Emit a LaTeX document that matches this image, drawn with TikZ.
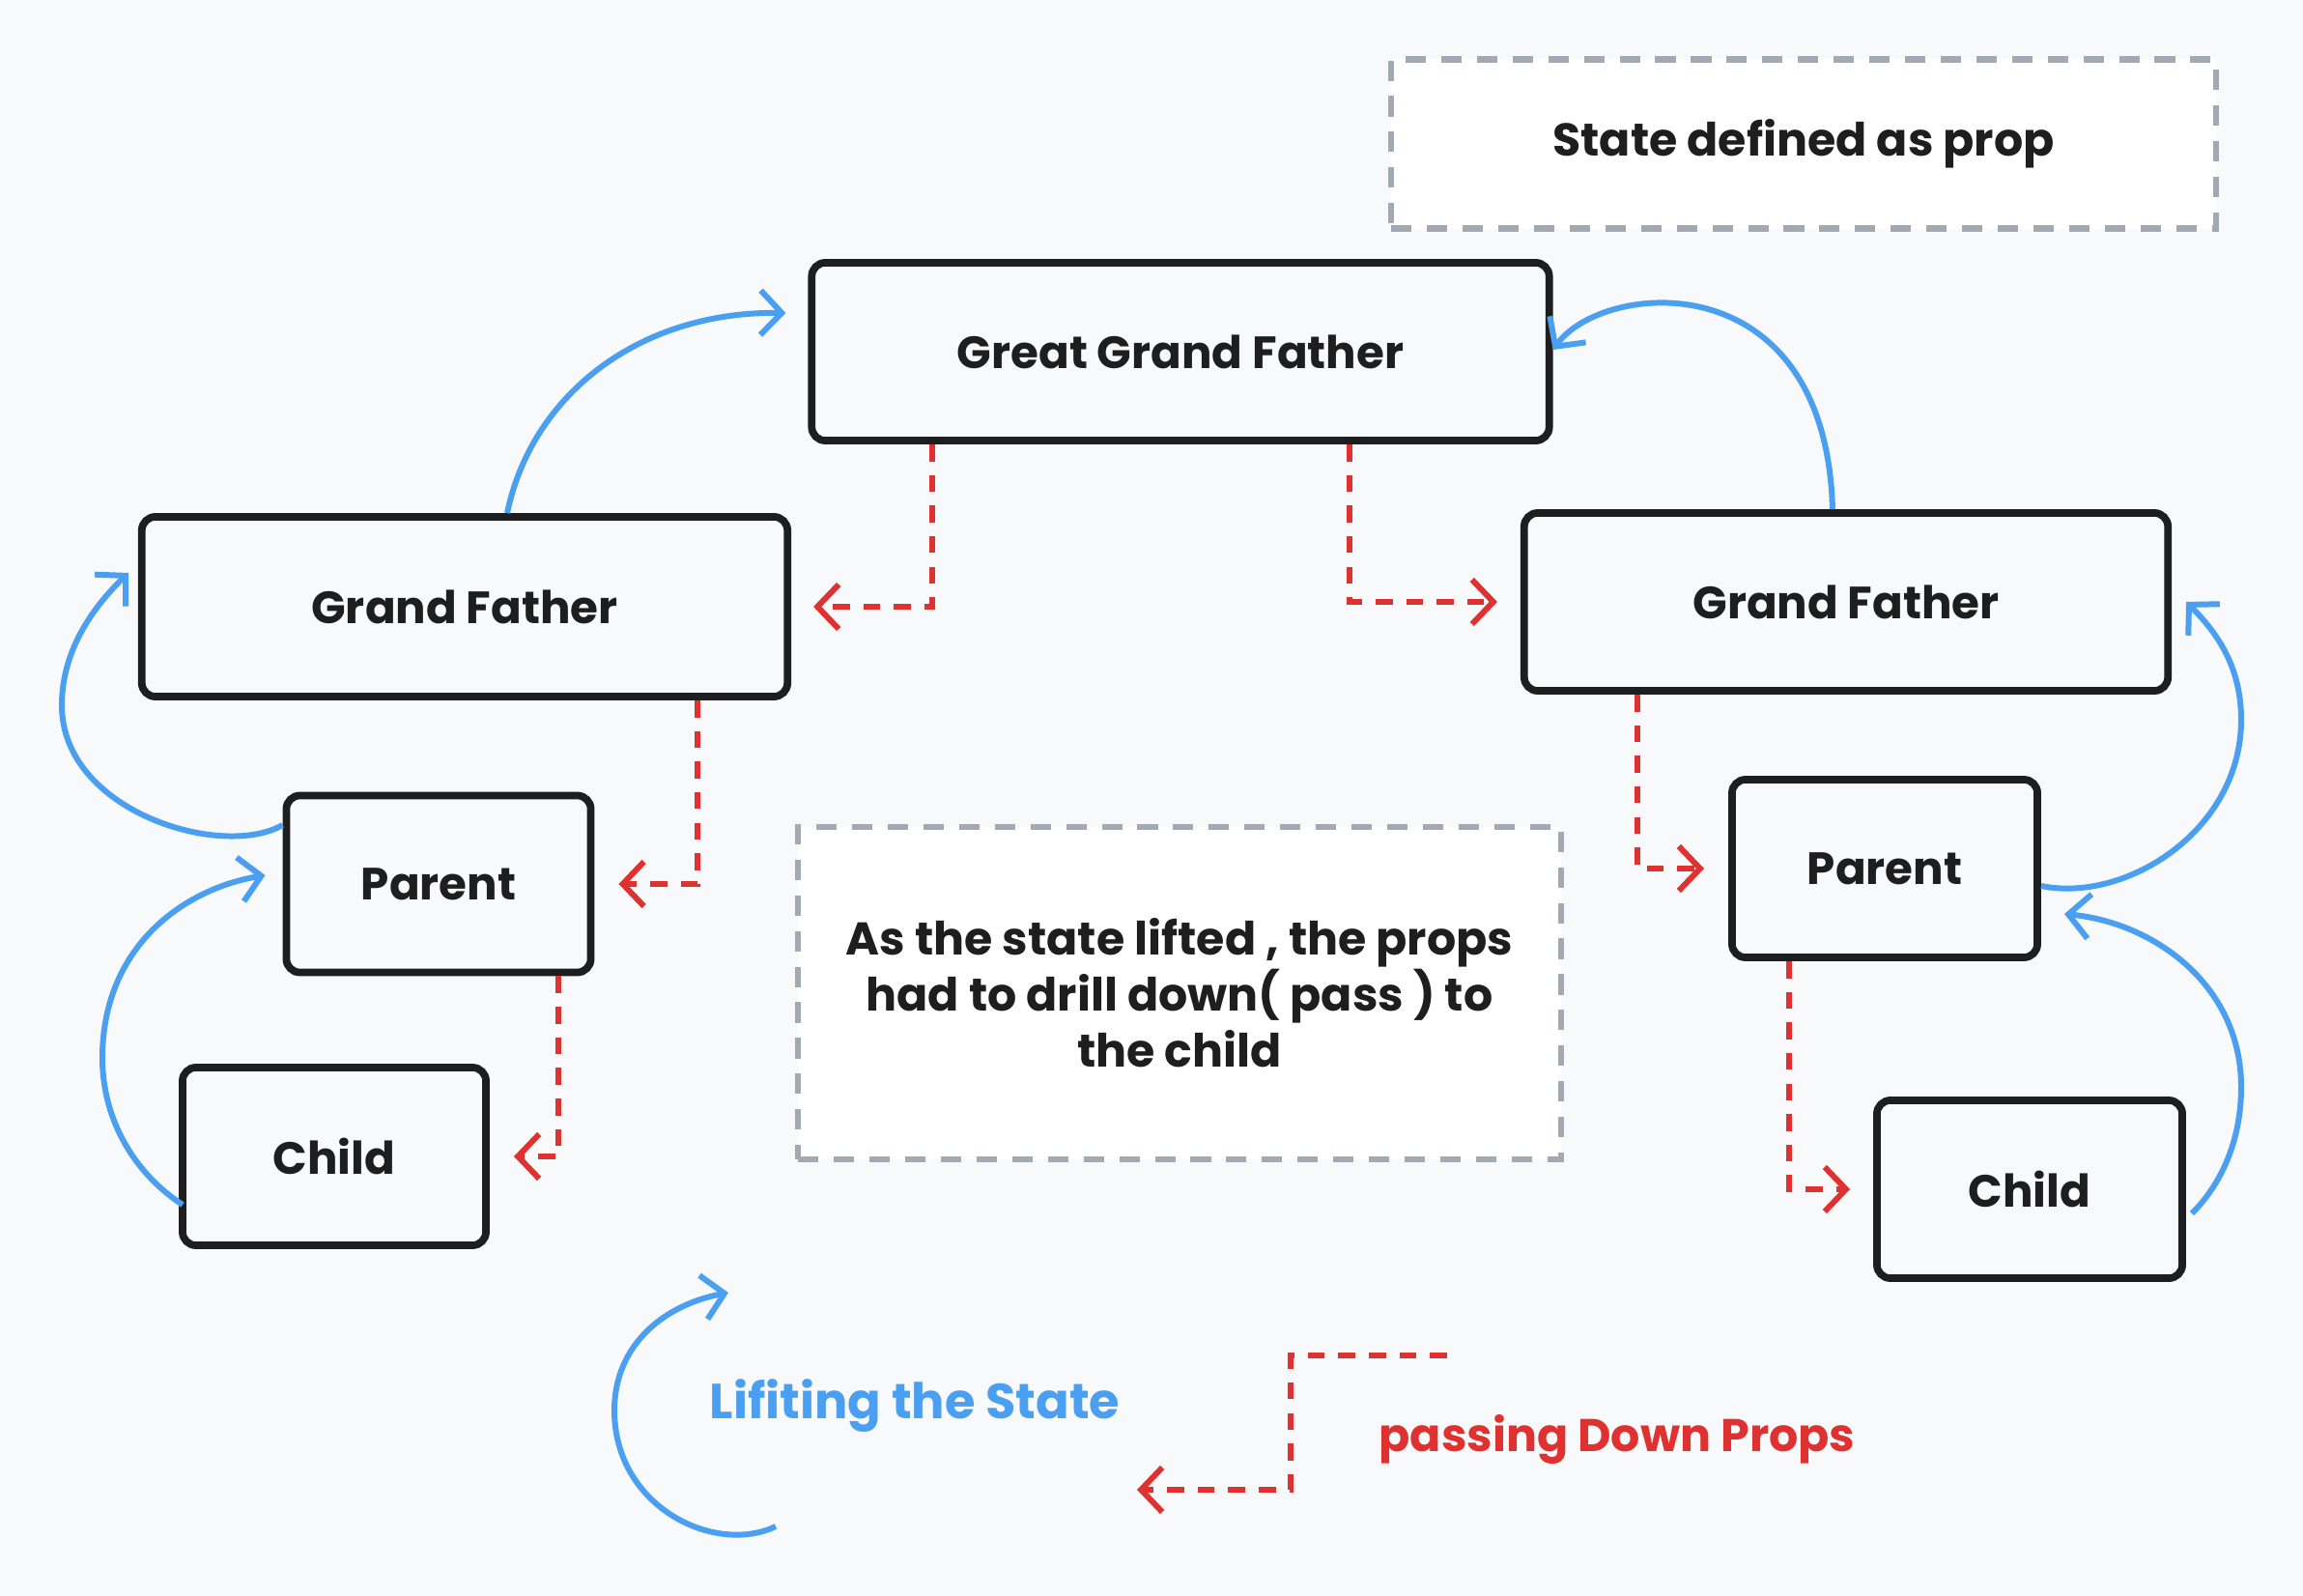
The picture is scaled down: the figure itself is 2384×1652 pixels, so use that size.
\documentclass[tikz,border=0pt]{standalone}
\usepackage{fontspec}
\setmainfont{Poppins}
\usetikzlibrary{arrows.meta}
\definecolor{bgcol}{HTML}{F8F9FB}
\definecolor{inkcol}{HTML}{1E1E1E}
\definecolor{liftcol}{HTML}{4A9FF0}
\definecolor{propcol}{HTML}{E03131}
\definecolor{notecol}{HTML}{A3A9B3}
\begin{document}
\begin{tikzpicture}[x=0.01cm,y=-0.01cm,
    box/.style={draw=inkcol,line width=2.2pt,rounded corners=4pt,text=inkcol,
      font=\bfseries\fontsize{13.3}{15}\selectfont},
    notebox/.style={draw=notecol,fill=white,line width=1.8pt,dash pattern=on 6pt off 4.5pt,
      align=center,text=inkcol,font=\bfseries\fontsize{13.5}{16.5}\selectfont},
    lift/.style={draw=liftcol,line width=1.7pt,-{Straight Barb[length=2.2mm,width=4.6mm]}},
    props/.style={draw=propcol,line width=1.7pt,dash pattern=on 5pt off 4pt,
      -{Straight Barb[length=2.2mm,width=4.6mm]}}]
  \fill[bgcol] (0,0) rectangle (2384,1652);
  \useasboundingbox (0,0) rectangle (2384,1652);

  % boxes
  \node[notebox,minimum width=8.53cm,minimum height=1.75cm] (state) at (1867,149) {State defined as prop};
  \node[box,minimum width=7.63cm,minimum height=1.84cm] (ggf) at (1222,364) {Great Grand Father};
  \node[box,minimum width=6.68cm,minimum height=1.86cm] (lgf) at (481,628) {Grand Father};
  \node[box,minimum width=6.66cm,minimum height=1.84cm] (rgf) at (1911,623) {Grand Father};
  \node[box,minimum width=3.15cm,minimum height=1.83cm] (lpar) at (454,915) {Parent};
  \node[box,minimum width=3.14cm,minimum height=1.84cm] (lchild) at (346,1197) {Child};
  \node[box,minimum width=3.16cm,minimum height=1.84cm] (rpar) at (1951,899) {Parent};
  \node[box,minimum width=3.16cm,minimum height=1.84cm] (rchild) at (2101,1231) {Child};
  \node[notebox,minimum width=7.89cm,minimum height=3.44cm] (note) at (1221,1028)
    {As the state lifted , the props\\had to drill down( pass ) to\\the child};

  % lifting the state
  \draw[lift] ([xshift=0.44cm]lgf.north) .. controls (550,410) and (660,322) .. ([xshift=-0.23cm,yshift=0.4cm]ggf.west);
  \draw[lift] ([xshift=-0.14cm]rgf.north) .. controls (1890,270) and (1660,290) .. ([yshift=0.02cm]ggf.east);
  \draw[lift] ([yshift=0.61cm]lpar.west) .. controls (230,890) and (64,840) .. (64,730)
    .. controls (64,670) and (100,625) .. ([xshift=-0.10cm,yshift=0.35cm]lgf.west);
  \draw[lift] ([xshift=0.04cm,yshift=-0.5cm]lchild.west) .. controls (140,1215) and (106,1160) .. (106,1095)
    .. controls (106,980) and (190,920) .. ([xshift=-0.18cm,yshift=0.09cm]lpar.west);
  \draw[lift] ([yshift=-0.18cm]rpar.east) .. controls (2200,935) and (2320,860) .. (2320,745)
    .. controls (2320,690) and (2295,655) .. ([xshift=0.15cm]rgf.east);
  \draw[lift] ([xshift=0.06cm,yshift=-0.25cm]rchild.east) .. controls (2300,1225) and (2320,1180) .. (2320,1125)
    .. controls (2320,1020) and (2230,955) .. ([xshift=0.24cm,yshift=-0.47cm]rpar.east);

  % passing down props
  \foreach \from/\dx/\to/\ex in {ggf/-2.57/lgf.east/0.23, ggf/1.75/rgf.west/-0.24,
      lgf/2.41/lpar.east/0.25, lpar/1.24/lchild.east/0.25,
      rgf/-2.16/rpar.west/-0.25, rpar/-0.99/rchild.west/-0.24} {
    \draw[props] ([xshift=\dx cm]\from.south) |- ([xshift=\ex cm]\to);
  }

  % legend
  \coordinate (liftA) at (803,1580);
  \coordinate (liftB) at (754,1338);
  \draw[lift] (liftA) .. controls (740,1610) and (636,1560) .. (636,1460)
    .. controls (636,1390) and (690,1350) .. (liftB);
  \node[text=liftcol,font=\bfseries\fontsize{14.5}{17}\selectfont] (liftlbl) at (947,1455) {Lifiting the State};
  \coordinate (propsA) at (1498,1403);
  \coordinate (propsC) at (1336,1403);
  \coordinate (propsB) at (1177,1542);
  \draw[props] (propsA) -- (propsC) |- (propsB);
  \node[text=propcol,font=\bfseries\fontsize{13.5}{16}\selectfont] (propslbl) at (1674,1490) {passing Down Props};
\end{tikzpicture}
\end{document}
